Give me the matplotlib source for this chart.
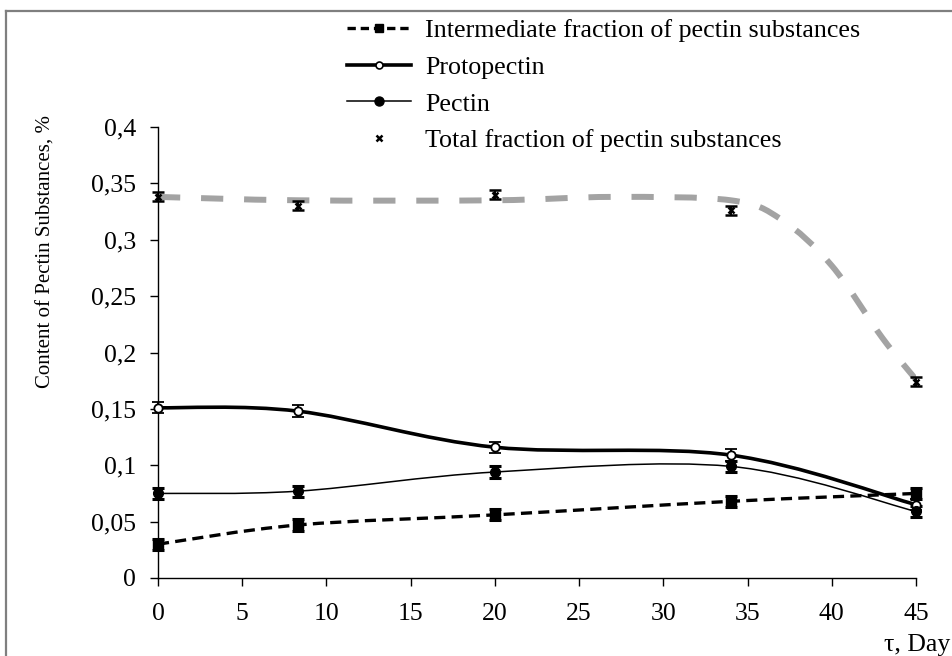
import matplotlib.pyplot as plt
import numpy as np
from matplotlib.path import Path
from matplotlib.patches import PathPatch
from matplotlib.lines import Line2D

plt.rcParams['font.family'] = ['Liberation Serif', 'DejaVu Serif']
plt.rcParams['lines.scale_dashes'] = False

# storage time, days
days = [0, 8.3, 20, 34, 45]

# content of pectin substances, %
intermediate = [0.030, 0.047, 0.056, 0.068, 0.075]
protopectin = [0.151, 0.148, 0.116, 0.109, 0.065]
pectin = [0.075, 0.077, 0.094, 0.099, 0.059]
total = [0.338, 0.330, 0.340, 0.326, 0.174]

# grey trend curve for the total fraction
trend_days = [0, 8.3, 20, 27, 34, 37, 40, 43, 45]
trend_total = [0.338, 0.335, 0.335, 0.338, 0.335, 0.318, 0.277, 0.213, 0.176]

err_fractions = 0.005
err_total = 0.004

yticks = [0, 0.05, 0.1, 0.15, 0.2, 0.25, 0.3, 0.35, 0.4]
ytick_labels = ['0', '0,05', '0,1', '0,15', '0,2', '0,25', '0,3', '0,35', '0,4']
xticks = [0, 5, 10, 15, 20, 25, 30, 35, 40, 45]


def smooth_path(x, y):
    # Catmull-Rom style bezier through the points (like a "smoothed line")
    x = np.asarray(x, float)
    y = np.asarray(y, float)
    n = len(x)
    verts = [(x[0], y[0])]
    codes = [Path.MOVETO]
    for i in range(n - 1):
        i0 = max(i - 1, 0)
        i3 = min(i + 2, n - 1)
        c1 = (x[i] + (x[i + 1] - x[i0]) / 6, y[i] + (y[i + 1] - y[i0]) / 6)
        c2 = (x[i + 1] - (x[i3] - x[i]) / 6, y[i + 1] - (y[i3] - y[i]) / 6)
        verts += [c1, c2, (x[i + 1], y[i + 1])]
        codes += [Path.CURVE4] * 3
    return Path(verts, codes)


fig = plt.figure(figsize=(9.52, 6.56), dpi=100)
ax = fig.add_axes([158 / 952, 1 - 578 / 656, (916 - 158) / 952, (578 - 127) / 656])

# smoothed curves
ax.add_patch(PathPatch(smooth_path(trend_days, trend_total), fill=False, edgecolor='#a3a3a3',
                       lw=4.3, linestyle=(0, (16, 15)), capstyle='butt', zorder=1))
ax.add_patch(PathPatch(smooth_path(days, protopectin), fill=False, edgecolor='black',
                       lw=2.6, zorder=2))
ax.add_patch(PathPatch(smooth_path(days, pectin), fill=False, edgecolor='black',
                       lw=1.1, zorder=2))
ax.add_patch(PathPatch(smooth_path(days, intermediate), fill=False, edgecolor='black',
                       lw=2.4, linestyle=(0, (8, 4.5)), capstyle='butt', zorder=2))

# points with error bars
eb = dict(ls='none', ecolor='black', elinewidth=1.4, capsize=4, capthick=2.2,
          clip_on=False, zorder=3)
ax.errorbar(days, protopectin, yerr=err_fractions, marker='o', ms=6, mfc='white',
            mec='black', mew=1.3, **eb)
ax.errorbar(days, pectin, yerr=err_fractions, marker='o', ms=7, mfc='black',
            mec='black', **eb)
ax.errorbar(days, intermediate, yerr=err_fractions, marker='s', ms=6.5, mfc='black',
            mec='black', **eb)
ax.errorbar(days, total, yerr=err_total, marker='x', ms=5, mec='black', mew=1.8, **eb)

ax.set_xlim(0, 45)
ax.set_ylim(0, 0.4)
ax.set_xticks(xticks)
ax.set_xticklabels([str(t) for t in xticks])
ax.set_yticks(yticks)
ax.set_yticklabels(ytick_labels)
ax.tick_params(direction='out', length=6, width=1, labelsize=18.5, colors='black')
ax.tick_params(axis='x', pad=12)
ax.tick_params(axis='y', pad=10)
ax.spines['top'].set_visible(False)
ax.spines['right'].set_visible(False)
for s in ('left', 'bottom'):
    ax.spines[s].set_linewidth(1)

fig.text(46 / 952, 1 - 252 / 656, 'Content of Pectin Substances, %', rotation=90,
         ha='center', va='center', fontsize=15)
fig.text(950 / 952, 1 - 645 / 656, 'τ, Day', ha='right', va='center', fontsize=18.5)

# legend
handles = [
    Line2D([], [], color='black', lw=2.4, ls=(0, (6, 3.5)), marker='s', ms=6),
    Line2D([], [], color='black', lw=2.6, marker='o', ms=5, mfc='white', mew=1.2),
    Line2D([], [], color='black', lw=1.1, marker='o', ms=6.5),
    Line2D([], [], color='black', ls='none', marker='x', ms=5, mew=1.8),
]
labels = ['Intermediate fraction of pectin substances', 'Protopectin', 'Pectin',
          'Total fraction of pectin substances']
fig.legend(handles, labels, loc='upper left', bbox_to_anchor=(347 / 952, 1 - 19 / 656),
           frameon=False, fontsize=18.7, handlelength=2.45, handletextpad=0.55,
           labelspacing=0.52, borderpad=0, borderaxespad=0)

# outer frame
fig.add_artist(Line2D([6 / 952, 6 / 952], [0, 1 - 11 / 656], color='#7f7f7f', lw=1.6))
fig.add_artist(Line2D([6 / 952, 1], [1 - 11 / 656, 1 - 11 / 656], color='#7f7f7f', lw=1.6))

fig.savefig('out.png', dpi=100)
